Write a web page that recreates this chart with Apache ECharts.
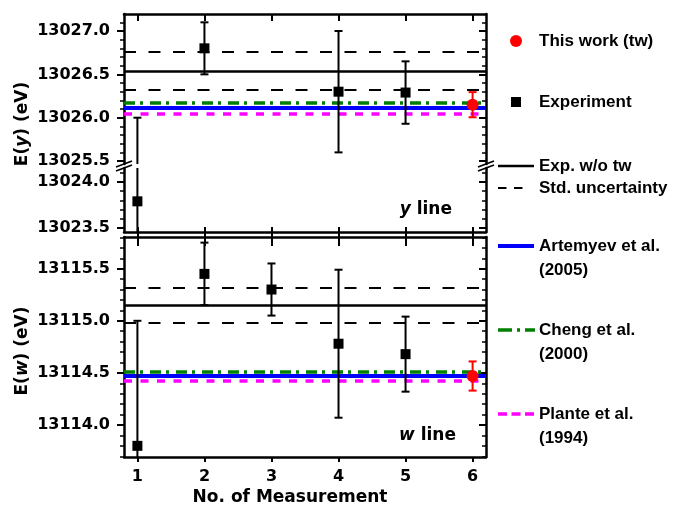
<!DOCTYPE html>
<html>
<head>
<meta charset="utf-8">
<script src="https://cdn.jsdelivr.net/npm/echarts@6.0.0/dist/echarts.min.js"></script>
<style>
html, body { margin: 0; padding: 0; background: #fff; }
#chart { width: 682px; height: 509px; }
</style>
</head>
<body>
<div id="chart"></div>
<script>
// Measurements 1..5 (literature), point 6 is this work
const measurements = [1, 2, 3, 4, 5];
const yExp = [13023.79, 13026.80, null, 13026.30, 13026.29];
const yExpErr = [2.21, 0.30, null, 0.70, 0.36];
const wExp = [13113.80, 13115.45, 13115.30, 13114.78, 13114.68];
const wExpErr = [1.20, 0.30, 0.25, 0.71, 0.36];

const thisWorkX = [6];
const yThisWork = [13026.15];
const yThisWorkErr = [0.145];
const wThisWork = [13114.47];
const wThisWorkErr = [0.14];

// Exp. w/o tw, Artemyev, Cheng, Plante
const yRefs = [13026.54, 13026.12, 13026.17, 13026.05];
const wRefs = [13115.145, 13114.47, 13114.51, 13114.42];
const yStdUnc = [13026.32, 13026.76];
const wStdUnc = [13114.98, 13115.32];

const xTicks = [1, 2, 3, 4, 5, 6];
const yUpperTicks = [13025.5, 13026.0, 13026.5, 13027.0];
const yLowerTicks = [13023.5, 13024.0];
const wTicks = [13114.0, 13114.5, 13115.0, 13115.5];

const legendLabels = [
    ['This work (tw)'], ['Experiment'], ['Exp. w/o tw'], ['Std. uncertainty'],
    ['Artemyev et al.', '(2005)'], ['Cheng et al.', '(2000)'], ['Plante et al.', '(1994)']
];

// layout
const X_MIN = 0.8, X_MAX = 6.2;
const G_LEFT = 124, G_W = 362;
const panels = [
    { top: 14, height: 150, min: 13025.466, max: 13027.196, ticks: yUpperTicks },
    { top: 168, height: 64, min: 13023.457, max: 13024.152, ticks: yLowerTicks },
    { top: 237, height: 220, min: 13113.693, max: 13115.804, ticks: wTicks }
];
const NUM_FONT = 'DejaVu Sans';
const LEG_FONT = 'Liberation Sans, Arial, sans-serif';

const lineStyles = [
    { color: '#000', width: 2.5, type: 'solid' },
    { color: '#0000ff', width: 4, type: 'solid' },
    { color: '#008000', width: 3.5, type: [11, 5, 3, 7] },
    { color: '#ff00ff', width: 3.5, type: [8, 8.5] }
];
const stdStyle = { color: '#000', width: 2, type: [12, 12.5] };

function stepTicks(min, max, step) {
    const out = [];
    for (let k = Math.ceil(min / step - 1e-9); k * step <= max + 1e-9; k++) {
        out.push(+(k * step).toFixed(2));
    }
    return out;
}

const axisLine = { show: true, onZero: false, lineStyle: { color: '#000', width: 2.5 } };
const tickLine = { color: '#000', width: 2 };

function yAxesFor(gi, p) {
    const minors = stepTicks(p.min, p.max, 0.1);
    const base = { gridIndex: gi, type: 'value', min: p.min, max: p.max, splitLine: { show: false } };
    return [
        Object.assign({}, base, {
            position: 'left', axisLine: axisLine,
            axisTick: { show: true, inside: false, length: 7, lineStyle: tickLine, customValues: p.ticks },
            axisLabel: {
                show: true, customValues: p.ticks, margin: 14, color: '#000',
                fontFamily: NUM_FONT, fontWeight: 'bold', fontSize: 16,
                formatter: function (v) { return v.toFixed(1); }
            }
        }),
        Object.assign({}, base, {
            position: 'left', axisLine: { show: false },
            axisTick: { show: true, inside: false, length: 4, lineStyle: { color: '#000', width: 1.5 }, customValues: minors },
            axisLabel: { show: false }
        }),
        Object.assign({}, base, {
            position: 'right', axisLine: axisLine,
            axisTick: { show: true, inside: true, length: 7, lineStyle: tickLine, customValues: p.ticks },
            axisLabel: { show: false }
        }),
        Object.assign({}, base, {
            position: 'right', axisLine: { show: false },
            axisTick: { show: true, inside: true, length: 4, lineStyle: { color: '#000', width: 1.5 }, customValues: minors },
            axisLabel: { show: false }
        })
    ];
}

function xAxisFor(gi, position, opts) {
    return {
        gridIndex: gi, type: 'value', position: position, min: X_MIN, max: X_MAX,
        splitLine: { show: false },
        axisLine: opts.line ? axisLine : { show: false, onZero: false },
        axisTick: { show: true, inside: opts.inside, length: opts.len, lineStyle: tickLine, customValues: xTicks },
        axisLabel: opts.labels ? {
            show: true, customValues: xTicks, margin: 12, color: '#000',
            fontFamily: NUM_FONT, fontWeight: 'bold', fontSize: 16
        } : { show: false }
    };
}

const xAxes = [
    xAxisFor(0, 'top', { line: true, inside: true, len: 7 }),           // 0
    xAxisFor(1, 'bottom', { line: true, inside: true, len: 5 }),        // 1
    xAxisFor(1, 'bottom', { line: false, inside: false, len: 5 }),      // 2
    xAxisFor(2, 'top', { line: true, inside: true, len: 9 }),           // 3
    xAxisFor(2, 'bottom', { line: true, inside: false, len: 5, labels: true }) // 4
];
const mainX = [0, 1, 4];

let yAxes = [];
panels.forEach(function (p, gi) { yAxes = yAxes.concat(yAxesFor(gi, p)); });

function errorBars(color) {
    return function (params, api) {
        const x = api.value(0), v = api.value(1), e = api.value(2);
        const hi = api.coord([x, v + e]);
        const lo = api.coord([x, v - e]);
        const cs = params.coordSys;
        const top = cs.y, bottom = cs.y + cs.height;
        const style = { stroke: color, lineWidth: 2 };
        const kids = [];
        const y1 = Math.max(hi[1], top), y2 = Math.min(lo[1], bottom);
        if (y2 > y1) kids.push({ type: 'line', shape: { x1: hi[0], y1: y1, x2: hi[0], y2: y2 }, style: style });
        [hi, lo].forEach(function (pt) {
            if (pt[1] >= top - 0.5 && pt[1] <= bottom + 0.5) {
                kids.push({ type: 'line', shape: { x1: pt[0] - 4, y1: pt[1], x2: pt[0] + 4, y2: pt[1] }, style: style });
            }
        });
        return { type: 'group', children: kids };
    };
}

function pairs(xs, vals, errs) {
    const out = [];
    xs.forEach(function (x, i) {
        if (vals[i] != null) out.push(errs ? [x, vals[i], errs[i]] : [x, vals[i]]);
    });
    return out;
}

function refSeries(gi, refs, std) {
    const data = refs.map(function (v, i) { return { yAxis: v, lineStyle: lineStyles[i] }; });
    std.forEach(function (v) { data.push({ yAxis: v, lineStyle: stdStyle }); });
    return {
        type: 'line', xAxisIndex: mainX[gi], yAxisIndex: gi * 4, data: [], z: 1,
        markLine: { silent: true, z: 1, symbol: ['none', 'none'], label: { show: false }, animation: false, data: data }
    };
}

const series = [refSeries(0, yRefs, yStdUnc), refSeries(2, wRefs, wStdUnc)];
panels.forEach(function (p, gi) {
    const isW = gi === 2;
    const ev = isW ? wExp : yExp, ee = isW ? wExpErr : yExpErr;
    const tv = isW ? wThisWork : yThisWork, te = isW ? wThisWorkErr : yThisWorkErr;
    const ax = { xAxisIndex: mainX[gi], yAxisIndex: gi * 4 };
    series.push(Object.assign({ type: 'custom', renderItem: errorBars('#000'), data: pairs(measurements, ev, ee), z: 8 }, ax));
    series.push(Object.assign({ type: 'custom', renderItem: errorBars('#ff0000'), data: pairs(thisWorkX, tv, te), z: 8 }, ax));
    series.push(Object.assign({ type: 'scatter', symbol: 'rect', symbolSize: 10, itemStyle: { color: '#000', opacity: 1 }, data: pairs(measurements, ev), z: 9 }, ax));
    series.push(Object.assign({ type: 'scatter', symbol: 'circle', symbolSize: 12, itemStyle: { color: '#ff0000', opacity: 1 }, data: pairs(thisWorkX, tv), z: 9 }, ax));
});

// decorations: axis breaks, titles, legend
const graphics = [];
const gapTop = panels[0].top + panels[0].height, gapBot = panels[1].top;
[G_LEFT, G_LEFT + G_W].forEach(function (ax) {
    [gapTop, gapBot].forEach(function (gy) {
        graphics.push({ type: 'line', z: 10, shape: { x1: ax - 8, y1: gy + 3, x2: ax + 8, y2: gy - 3 }, style: { stroke: '#000', lineWidth: 1.8 } });
    });
});

function txt(x, y, text, font, size, extra) {
    return Object.assign({
        type: 'text', x: x, y: y, z: 10,
        style: Object.assign({ text: text, fontFamily: font, fontWeight: 'bold', fontSize: size, fill: '#000', align: 'left', verticalAlign: 'middle' }, extra || {})
    });
}
const italicRich = { i: { fontStyle: 'italic', fontFamily: NUM_FONT, fontWeight: 'bold', fontSize: 17 } };
graphics.push(Object.assign(txt(23, 124, 'E({i|y}) (eV)', NUM_FONT, 17, { align: 'center', rich: italicRich }), { rotation: Math.PI / 2 }));
graphics.push(Object.assign(txt(23, 351, 'E({i|w}) (eV)', NUM_FONT, 17, { align: 'center', rich: italicRich }), { rotation: Math.PI / 2 }));
graphics.push(txt(290, 498, 'No. of Measurement', NUM_FONT, 17, { align: 'center' }));
graphics.push(txt(452, 210, '{i|y} line', NUM_FONT, 17, { align: 'right', rich: italicRich }));
graphics.push(txt(456, 436, '{i|w} line', NUM_FONT, 17, { align: 'right', rich: italicRich }));

const legY = [41, 102, 166, 188, 246, 330, 414];
legendLabels.forEach(function (lines, i) {
    lines.forEach(function (t, k) {
        graphics.push(txt(539, legY[i] + k * 24, t, LEG_FONT, 17));
    });
});
graphics.push({ type: 'circle', shape: { cx: 516, cy: legY[0], r: 6 }, style: { fill: '#ff0000' } });
graphics.push({ type: 'rect', shape: { x: 511, y: legY[1] - 5, width: 10, height: 10 }, style: { fill: '#000' } });
function legLine(y, x2, st, dash) {
    return { type: 'line', shape: { x1: 498, y1: y, x2: x2, y2: y }, style: { stroke: st.color, lineWidth: st.width, lineDash: dash || null } };
}
graphics.push(legLine(legY[2], 534, lineStyles[0]));
graphics.push(legLine(legY[3], 523, stdStyle, [8.5, 7.5]));
graphics.push(legLine(legY[4], 534, lineStyles[1]));
graphics.push(legLine(legY[5], 535, lineStyles[2], [14, 5, 3, 5]));
graphics.push(legLine(legY[6], 535, lineStyles[3], [9, 4.5]));

const grids = panels.map(function (p) {
    return { left: G_LEFT, top: p.top, width: G_W, height: p.height, containLabel: false, outerBoundsMode: 'none' };
});

const chart = echarts.init(document.getElementById('chart'));
chart.setOption({
    animation: false,
    backgroundColor: '#fff',
    textStyle: { fontFamily: NUM_FONT },
    grid: grids,
    xAxis: xAxes,
    yAxis: yAxes,
    series: series,
    graphic: graphics
});
</script>
</body>
</html>
